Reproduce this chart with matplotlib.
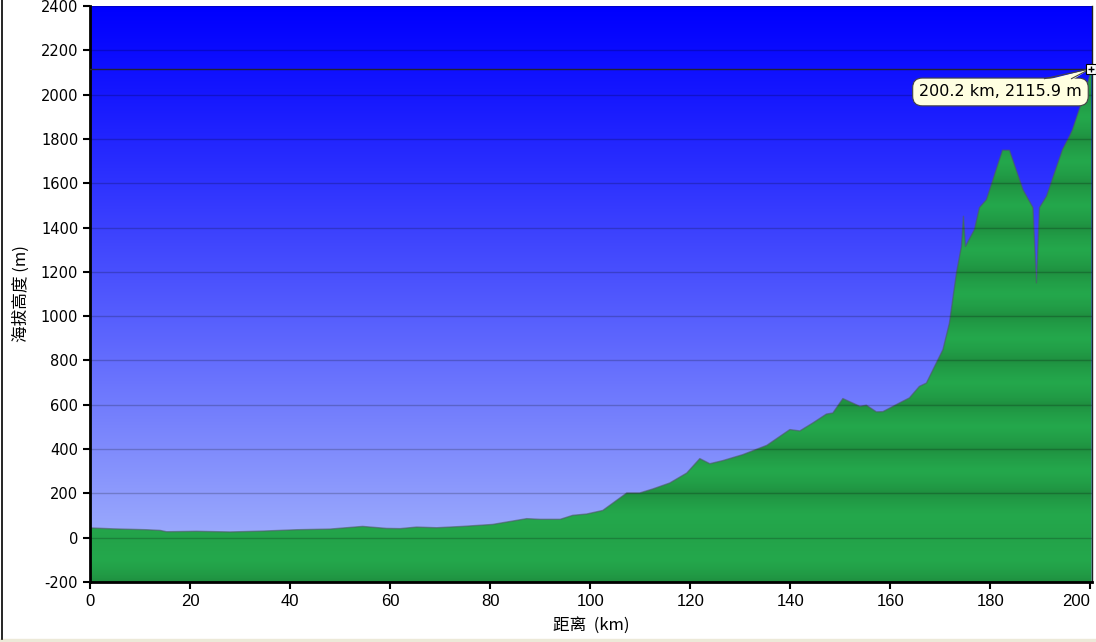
import numpy as np
import matplotlib.pyplot as plt
from matplotlib.patches import Rectangle, Polygon
from matplotlib.lines import Line2D

# elevation profile
dist = [0, 0.3, 4.6, 11.3, 14, 15.3, 21.3, 28, 34.6, 41.3, 48, 54.5, 59.3, 62,
        65.3, 69.3, 74.5, 80.5, 87.3, 90, 94, 96.5, 99.3, 102.5, 107.3, 109.9,
        112.5, 115.9, 119.3, 121.9, 123.9, 126.5, 130.5, 135.3, 139.9, 141.9,
        144.5, 147.2, 148.5, 150.5, 153.9, 155.2, 157.2, 158.5, 161.8, 163.8,
        165.8, 167.2, 169.2, 170.5, 171.8, 173.2, 174.2, 174.6, 175.0, 176.8,
        177.8, 179.2, 182.4, 183.8, 186.5, 188.5, 189.2, 189.8, 191.2, 194.4,
        195.8, 196.4, 198.4, 199.3, 200.2]
elev = [45, 44, 40, 36, 33, 27, 29, 26, 30, 36, 39, 51, 42, 41,
        48, 45, 51, 60, 86, 83, 83, 101, 107, 123, 202, 202,
        220, 247, 292, 357, 334, 348, 375, 417, 488, 482,
        518, 558, 563, 628, 593, 598, 568, 569, 608, 631,
        683, 698, 790, 849, 969, 1195, 1315, 1451, 1315, 1391,
        1490, 1526, 1749, 1749, 1571, 1490, 1150, 1490, 1541, 1752,
        1812, 1842, 1977, 2040, 2115.9]
x_ticks = [0, 20, 40, 60, 80, 100, 120, 140, 160, 180, 200]
y_ticks = [-200, 0, 200, 400, 600, 800, 1000, 1200, 1400, 1600, 1800, 2000, 2200, 2400]
cursor_km, cursor_m = 200.2, 2115.9
cursor_label = "200.2 km, 2115.9 m"

plt.rcParams['font.family'] = ['DejaVu Sans']
plt.rcParams['axes.unicode_minus'] = False

fig = plt.figure(figsize=(10.96, 6.42), dpi=100)
ax = fig.add_axes([90 / 1096, 60 / 642, 1002 / 1096, 576 / 642])
x0, x1 = 0, 200.3
y0, y1 = -200, 2400
ax.set_xlim(x0, x1)
ax.set_ylim(y0, y1)

# sky gradient
n = 400
t = np.linspace(0, 1, n)[:, None]  # 0 at top, 1 at bottom
top = np.array([0, 0, 255]) / 255
bot = np.array([170, 186, 252]) / 255
sky = top + (bot - top) * t ** 1.1
sky = np.repeat(sky[:, None, :], 2, axis=1).reshape(n, 2, 3)
ax.imshow(sky, extent=[x0, x1, y0, y1], aspect='auto', zorder=0, origin='upper')

# banded green fill
ys = np.linspace(y1, y0, 800)
d = np.abs(((ys + 100) % 200) - 100) / 100  # 0 at gridline, 1 mid-band
d = np.where((ys > -100) & (ys < 100), 1 - 0.3 * (1 - d), d)
light = np.array([36, 168, 76]) / 255
dark = np.array([30, 140, 62]) / 255
g = dark + (light - dark) * (d ** 0.6)[:, None]
green = np.repeat(g[:, None, :], 2, axis=1)
poly = ax.fill_between(dist, elev, y0, color='none', zorder=1)
im = ax.imshow(green, extent=[x0, x1, y0, y1], aspect='auto', zorder=1, origin='upper')
im.set_clip_path(poly.get_paths()[0], transform=ax.transData)
ax.plot(dist, elev, color='#4d5a66', lw=1.0, alpha=0.6, zorder=2)

ax.set_yticks(y_ticks)
ax.set_xticks(x_ticks)
ax.grid(axis='y', color='black', alpha=0.2, lw=1, zorder=3)
ax.set_axisbelow(False)

# cursor line, tooltip and marker
ax.axhline(cursor_m, color='#222233', lw=1, zorder=4)
ax.text(182.0, 2012, cursor_label, ha='center', va='center', fontsize=11.5, color='black',
        bbox=dict(boxstyle='round,pad=0.4,rounding_size=0.6', fc='#ffffe1', ec='#444444', lw=0.8),
        zorder=8)
# callout pointer from the top of the box to the cursor point
base_l = (cursor_km - 9.4, 2064)
base_r = (cursor_km - 4.0, 2064)
tip = (cursor_km - 0.3, cursor_m)
ax.add_patch(Polygon([base_l, tip, base_r], closed=True, fc='#ffffe1', ec='none', zorder=9))
ax.plot([base_l[0], tip[0], base_r[0]], [base_l[1] + 8, tip[1], base_r[1] + 8],
        color='#444444', lw=0.8, zorder=9)
ax.plot([cursor_km], [cursor_m], marker='s', ms=7, mfc='white', mec='black', mew=0.8,
        zorder=10, clip_on=False)
ax.plot([cursor_km], [cursor_m], marker='+', ms=5, color='black', mew=1,
        zorder=11, clip_on=False)

ax.spines['top'].set_visible(False)
ax.spines['right'].set_color('#222222')
ax.spines['right'].set_linewidth(1)
ax.spines['left'].set_linewidth(2)
ax.spines['bottom'].set_linewidth(2)
ax.tick_params(axis='both', direction='out', length=5, width=1.5, color='black')
for lab in ax.get_yticklabels():
    lab.set_fontsize(10.5)
xlabs = ax.get_xticklabels()
for lab in xlabs:
    lab.set_fontsize(12)
    lab.set_family(['Liberation Sans Narrow', 'Liberation Sans'])
xlabs[-1].set_horizontalalignment('right')

ax.set_ylabel('海拔高度 (m)', family=['Noto Sans CJK SC', 'DejaVu Sans'], fontsize=12, labelpad=8)
ax.set_xlabel('距离  (km)', family=['Noto Sans CJK SC', 'DejaVu Sans'], fontsize=12, labelpad=6)

# outer frame bits
fig.add_artist(Line2D([1.5 / 1096, 1.5 / 1096], [3 / 642, 1], color='black', lw=1.2))
fig.add_artist(Rectangle((0, 0), 1, 3 / 642, color='#ece9d8', transform=fig.transFigure))

fig.savefig('out.png', dpi=100)
